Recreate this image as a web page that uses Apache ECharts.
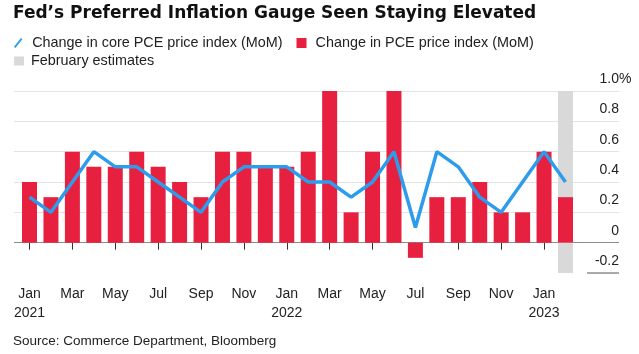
<!DOCTYPE html>
<html>
<head>
<meta charset="utf-8">
<script src="https://cdn.jsdelivr.net/npm/echarts@6/dist/echarts.min.js"></script>
<style>
html,body{margin:0;padding:0;background:#fff;}
#chart{width:639px;height:354px;}
</style>
</head>
<body>
<div id="chart"></div>
<script>
const categories = ['Jan 2021','Feb 2021','Mar 2021','Apr 2021','May 2021','Jun 2021','Jul 2021','Aug 2021','Sep 2021','Oct 2021','Nov 2021','Dec 2021',
  'Jan 2022','Feb 2022','Mar 2022','Apr 2022','May 2022','Jun 2022','Jul 2022','Aug 2022','Sep 2022','Oct 2022','Nov 2022','Dec 2022',
  'Jan 2023','Feb 2023'];
const pceMoM = [0.4,0.3,0.6,0.5,0.5,0.6,0.5,0.4,0.3,0.6,0.6,0.5,0.5,0.6,1.0,0.2,0.6,1.0,-0.1,0.3,0.3,0.4,0.2,0.2,0.6,0.3];
const corePceMoM = [0.3,0.2,0.4,0.6,0.5,0.5,0.4,0.3,0.2,0.4,0.5,0.5,0.5,0.4,0.4,0.3,0.4,0.6,0.1,0.6,0.5,0.3,0.2,0.4,0.6,0.4];
const estimateIndex = 25;
const estimateRange = [-0.2, 1.0];
const yTicks = [-0.2, 0, 0.2, 0.4, 0.6, 0.8, 1.0];

const estHigh = categories.map((c, i) => i === estimateIndex ? estimateRange[1] : null);
const estLow = categories.map((c, i) => i === estimateIndex ? estimateRange[0] : null);

const FONT = '"Liberation Sans", Arial, sans-serif';
const TITLE_FONT = '"DejaVu Sans", "Liberation Sans", sans-serif';
const RED = '#e8203f';
const BLUE = '#2e9cec';
const GREY = '#d9d9d9';

const chart = echarts.init(document.getElementById('chart'));
chart.setOption({
  animation: false,
  textStyle: { fontFamily: FONT },
  title: [
    { text: 'Fed\u2019s Preferred Inflation Gauge Seen Staying Elevated', left: 13, top: 5, padding: 0,
      textStyle: { fontSize: 17, fontWeight: 'bold', color: '#111', fontFamily: TITLE_FONT } },
    { text: 'Source: Commerce Department, Bloomberg', left: 13, top: 334, padding: 0,
      textStyle: { fontSize: 13.5, fontWeight: 'normal', color: '#222', fontFamily: FONT } }
  ],
  legend: [
    { left: 14, top: 36, padding: 0, itemGap: 14, itemWidth: 10, itemHeight: 10,
      textStyle: { fontSize: 14.4, color: '#222', fontFamily: FONT, padding: [0,0,0,4] },
      data: [
        { name: 'Change in core PCE price index (MoM)', icon: 'path://M8.3,0 L10,1.4 L1.7,12 L0,10.6 Z', itemStyle: { color: BLUE } },
        { name: 'Change in PCE price index (MoM)', icon: 'rect', itemStyle: { color: RED } }
      ] },
    { left: 14, top: 54, padding: 0, itemWidth: 10, itemHeight: 9,
      textStyle: { fontSize: 14.4, color: '#222', fontFamily: FONT, padding: [0,0,0,2] },
      data: [ { name: 'February estimates', icon: 'rect', itemStyle: { color: GREY } } ] }
  ],
  grid: [
    { left: 14, right: 20, top: 91, bottom: 81 },
    { left: 18.8, right: 62.8, top: 91, bottom: 81 }
  ],
  xAxis: [
    { type: 'value', gridIndex: 0, show: false, min: 0, max: 1 },
    { type: 'category', gridIndex: 1, data: categories, boundaryGap: true,
      axisLine: { show: false },
      axisTick: { show: true, alignWithLabel: true, interval: 1, length: 7, lineStyle: { color: '#333' } },
      axisLabel: { interval: 1, margin: 12, fontSize: 14, color: '#222', lineHeight: 19, fontFamily: FONT,
        formatter: (v) => { const p = v.split(' '); return p[0] === 'Jan' ? p[0] + '\n' + p[1] : p[0]; } } }
  ],
  yAxis: [
    { type: 'value', gridIndex: 0, position: 'right', min: -0.2, max: 1.0, interval: 0.2,
      axisLine: { show: false }, axisTick: { show: false },
      axisLabel: { inside: true, margin: 0, fontSize: 14, color: '#222', verticalAlign: 'bottom', padding: [0,0,5,0], fontFamily: FONT,
        formatter: (v) => { const r = Math.round(v * 10) / 10; return r === 0 ? '0' : r.toFixed(1); } },
      splitLine: { show: true, lineStyle: { width: 1, color: ['rgba(0,0,0,0)', '#8c8c8c', '#e3e3e3', '#e3e3e3', '#e3e3e3', '#e3e3e3', '#e3e3e3'] } } },
    { type: 'value', gridIndex: 1, min: -0.2, max: 1.0, interval: 0.2, show: false, splitLine: { show: false } }
  ],
  series: [
    { name: 'February estimates', type: 'bar', xAxisIndex: 1, yAxisIndex: 1, data: estHigh, barWidth: 15, barGap: '-100%',
      itemStyle: { color: GREY }, z: 1 },
    { name: 'February estimates', type: 'bar', xAxisIndex: 1, yAxisIndex: 1, data: estLow, barWidth: 15, barGap: '-100%',
      itemStyle: { color: GREY }, z: 1 },
    { name: 'Change in PCE price index (MoM)', type: 'bar', xAxisIndex: 1, yAxisIndex: 1, data: pceMoM, barWidth: 15, barGap: '-100%',
      itemStyle: { color: RED }, z: 2 },
    { name: 'Change in core PCE price index (MoM)', type: 'line', xAxisIndex: 1, yAxisIndex: 1, data: corePceMoM,
      symbol: 'none', lineStyle: { color: BLUE, width: 3.5 }, itemStyle: { color: BLUE }, z: 3 }
  ]
});

const yTop = chart.convertToPixel({ yAxisIndex: 0 }, yTicks[yTicks.length - 1]);
const yBottom = chart.convertToPixel({ yAxisIndex: 0 }, yTicks[0]);
const xRight = 639 - 20;
chart.setOption({
  graphic: [
    { type: 'text', x: xRight, y: yTop - 5, style: { text: '%', fontSize: 14, fill: '#222', fontFamily: FONT, align: 'left', verticalAlign: 'bottom' } },
    { type: 'line', shape: { x1: xRight - 32, y1: yBottom, x2: xRight, y2: yBottom }, style: { stroke: '#555', lineWidth: 1 } }
  ]
});
</script>
</body>
</html>
